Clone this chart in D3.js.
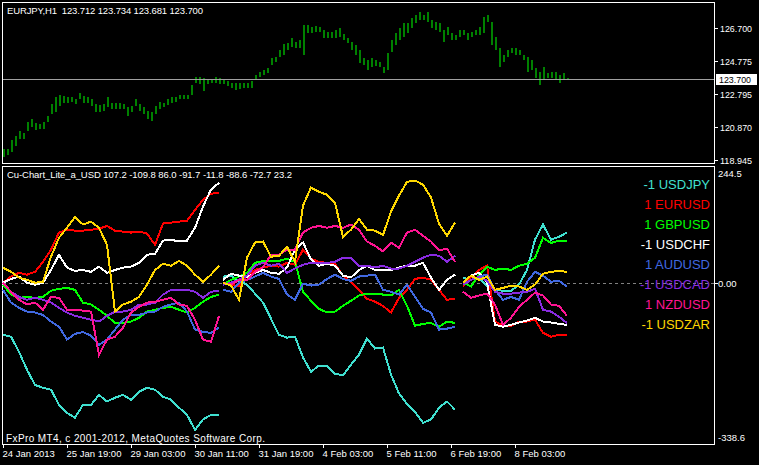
<!DOCTYPE html>
<html><head><meta charset="utf-8">
<script src="https://cdn.jsdelivr.net/npm/d3@7"></script>
<style>html,body{margin:0;padding:0;background:#000;} svg{display:block;} text{white-space:pre;}</style>
</head><body><svg id="c" width="759" height="465"></svg>
<script>
// ---------- DATA ----------
const timeLabels = ["24 Jan 2013","25 Jan 19:00","29 Jan 03:00","30 Jan 11:00","31 Jan 19:00","4 Feb 03:00","5 Feb 11:00","6 Feb 19:00","8 Feb 03:00"];
const priceTicks = [126.700,124.775,122.795,120.870,118.945];
const priceNow = 123.700;
const indTicks = [244.5,0.00,-338.6];
const seriesNames = ["-1 USDJPY","1 EURUSD","1 GBPUSD","-1 USDCHF","1 AUDUSD","-1 USDCAD","1 NZDUSD","-1 USDZAR"];
const segStarts = [0,110,230];   // bar index where each indicator segment begins (step 4 bars)

// EURJPY H1 bars, every 2nd bar (high / low)
const barHigh = [119.58,119.58,120.11,120.34,120.63,120.52,121.16,121.33,121.10,121.04,
121.16,121.51,122.21,122.62,122.79,122.73,122.67,122.67,122.50,122.91,
122.73,122.67,122.50,122.21,122.15,122.21,122.62,122.32,122.27,122.32,
122.21,122.03,122.09,122.50,122.21,122.03,121.80,121.74,122.09,122.38,
122.32,122.50,122.62,122.67,122.79,122.79,122.79,123.37,123.84,123.84,
123.78,123.72,123.72,123.84,123.78,123.72,123.61,123.49,123.49,123.49,
123.49,123.49,123.61,123.96,124.13,124.25,124.37,124.95,125.01,125.42,
125.77,125.82,126.12,125.88,126.00,126.88,126.88,126.76,126.82,126.76,
126.58,126.47,126.47,126.58,126.70,126.35,126.12,125.88,125.71,125.42,
124.95,124.83,124.95,124.83,124.72,124.42,125.24,126.00,126.41,126.70,
126.99,126.99,127.28,127.46,127.63,127.46,127.63,127.17,127.05,126.99,
126.58,126.76,126.41,126.29,126.58,126.58,126.41,126.47,126.58,126.76,
127.34,127.46,127.05,126.17,125.53,125.12,125.42,125.53,125.53,125.42,
125.12,125.01,124.83,124.37,124.13,124.42,124.07,124.13,124.13,123.96,
124.07,123.78];
const barLow = [119.12,119.23,119.41,119.76,120.17,120.17,120.63,120.87,120.69,120.75,
120.75,121.16,121.62,121.74,122.09,122.32,122.32,122.38,122.21,122.50,
122.32,122.32,122.09,121.74,121.74,121.80,122.03,121.92,121.92,121.92,
121.92,121.51,121.74,122.09,121.80,121.62,121.33,121.22,121.62,121.92,
122.03,122.15,122.32,122.38,122.50,122.50,122.50,122.79,123.49,123.43,
122.97,123.43,123.49,123.49,123.43,123.43,123.32,123.20,123.08,123.14,
123.20,123.20,123.20,123.67,123.84,123.96,124.07,124.54,124.72,125.01,
125.12,125.42,125.59,125.53,125.53,125.12,126.41,126.41,126.47,126.47,
126.12,126.12,126.12,126.12,126.17,126.00,125.82,125.42,125.12,124.66,
124.54,124.25,124.42,124.48,124.42,124.07,124.25,125.30,125.71,126.00,
126.17,126.41,126.70,126.99,127.17,127.17,127.05,126.70,126.58,126.47,
125.88,126.29,126.00,126.00,126.17,126.29,126.00,126.17,126.29,126.29,
126.41,127.05,125.71,125.42,124.42,124.72,125.01,125.24,125.12,125.12,
124.83,124.13,124.25,123.78,123.37,123.67,123.78,123.78,123.67,123.49,
123.67,123.67];

// Indicator series, three segments each (values every 4 bars)
const usdjpy = [
 [-110,-114,-146,-184,-216,-222,-226,-258,-275,-285,-258,-258,-237,-251,-243,-237,-247,-230,-222,-226,-241,-247,-264,-279,-311,-289,-279,-279],
 [13,15,4,-4,-23,-42,-76,-110,-116,-114,-158,-188,-175,-175,-192,-196,-173,-152,-118,-139,-137,-194,-234,-256,-273,-296,-289,-264,-251,-268],
 [11,6,11,-8,-15,-17,-17,-4,27,91,123,91,97,106]];
const eurusd = [
 [0,13,21,17,23,44,70,106,112,110,110,112,114,120,110,108,106,108,104,80,125,127,129,131,154,175,188,190],
 [0,-4,-8,15,27,32,36,34,42,38,70,51,44,42,40,15,2,-15,-34,-40,-49,-63,-32,-15,8,11,6,-15,-36,-34],
 [-8,11,27,36,-82,-91,-91,-82,-82,-78,-106,-114,-110,-110]];
const gbpusd = [
 [-4,-25,-32,-30,-32,-30,-17,-13,-11,-15,-42,-46,-57,-70,-85,-85,-82,-74,-61,-57,-53,-51,-57,-63,-53,-40,-30,-25],
 [-4,6,13,21,42,46,46,46,51,44,-19,-38,-55,-63,-61,-49,-38,-27,-23,-23,-25,-27,-15,-49,-91,-87,-85,-93,-82,-85],
 [0,-8,17,34,27,30,27,36,40,53,95,84,89,89]];
const usdchf = [
 [0,8,13,0,-4,0,27,59,32,25,27,23,34,21,27,32,34,42,59,61,89,91,87,89,116,161,197,211],
 [6,19,15,11,21,27,21,19,32,70,85,49,36,40,36,15,11,27,36,27,27,27,32,36,36,42,11,-15,6,17],
 [0,15,21,0,-89,-93,-89,-84,-80,-74,-82,-84,-87,-89]];
const audusd = [
 [-15,-42,-53,-61,-63,-68,-82,-93,-120,-108,-104,-112,-131,-120,-99,-78,-68,-68,-63,-61,-51,-46,-42,-61,-99,-104,-106,-95],
 [-15,-19,0,6,13,21,13,8,-25,-36,-2,-6,-4,8,17,8,4,13,15,17,-15,-19,-25,-4,-30,-55,-63,-99,-97,-93],
 [-4,6,13,17,-15,-36,-30,-36,2,23,15,2,4,-8]];
const usdcad = [
 [0,-19,-30,-36,-32,-36,-42,-53,-63,-70,-74,-78,-82,-70,-61,-61,-57,-46,-46,-42,-25,-15,-15,-15,-19,-32,-19,-17],
 [-4,0,6,15,36,42,36,40,21,30,38,42,42,42,44,53,53,36,36,32,36,30,30,36,44,53,59,57,44,57],
 [-4,6,13,4,-19,-23,-23,-21,-19,-13,-57,-61,-72,-85]];
const nzdusd = [
 [0,-19,-36,-46,-42,-57,-30,-32,-57,-57,-59,-61,-152,-120,-114,-95,-63,-51,-42,-40,-36,-32,-46,-49,-78,-120,-125,-70],
 [0,-4,6,6,23,32,59,59,70,70,106,116,120,116,120,116,123,112,87,78,66,85,74,106,112,99,87,68,72,44],
 [-19,-32,-27,-23,-46,-89,-74,-51,-36,-21,-27,-46,-49,-70]];
const usdzar = [
 [32,23,11,6,0,2,55,95,116,139,123,129,116,80,-61,-46,-40,-30,-4,27,40,36,46,36,17,2,17,36],
 [0,-6,-36,53,85,87,55,57,76,44,163,201,192,186,169,97,112,135,112,110,101,150,184,213,216,207,180,125,99,127],
 [0,15,6,13,-15,-11,-6,-8,-15,-4,19,23,25,23]];

// ---------- DRAWING ----------
const series = [usdjpy,eurusd,gbpusd,usdchf,audusd,usdcad,nzdusd,usdzar];
const colors = ["#40E0D0","#FF0000","#00FF00","#FFFFFF","#4169E1","#8A2BE2","#FF1493","#FFD700"];
const FONT = "Liberation Sans, Arial, sans-serif";

const svg = d3.select("#c");
svg.append("rect").attr("width",759).attr("height",465).attr("fill","#000");

const xs = d3.scaleLinear().domain([0,283]).range([3,569]);
const yTop = d3.scaleLinear().domain([118.945,126.7]).range([160,28]);
const yBot = d3.scaleLinear().domain([-338.6,244.5]).range([443,167]);

// top panel: price bars
const gTop = svg.append("g").attr("shape-rendering","crispEdges");
gTop.selectAll("rect.bar").data(barHigh.map((h,i)=>({i:i*2,h,l:barLow[i]})))
  .enter().append("rect")
  .attr("x",d=>Math.round(xs(d.i)))
  .attr("y",d=>Math.round(yTop(d.h)))
  .attr("width",2)
  .attr("height",d=>Math.max(2,Math.round(yTop(d.l))-Math.round(yTop(d.h))))
  .attr("fill","#008000");

// current price line
gTop.append("line").attr("x1",3).attr("x2",714).attr("y1",Math.round(yTop(priceNow))+0.5).attr("y2",Math.round(yTop(priceNow))+0.5)
  .attr("stroke","#a0a0a0").attr("stroke-width",1);

// frames
const frame = svg.append("g").attr("fill","none").attr("stroke","#fff").attr("stroke-width",1).attr("shape-rendering","crispEdges");
frame.append("rect").attr("x",2.5).attr("y",2.5).attr("width",712).attr("height",161);
frame.append("path").attr("d","M2.5,444.5V166.5H714.5V444.5H2.5");

// right axis top
const axT = svg.append("g").attr("font-family",FONT).attr("font-size",9.5).attr("fill","#fff");
priceTicks.forEach(v=>{
  const y = Math.round(yTop(v))+0.5;
  svg.append("line").attr("x1",714).attr("x2",718).attr("y1",y).attr("y2",y).attr("stroke","#fff").attr("shape-rendering","crispEdges");
  axT.append("text").attr("x",720).attr("y",y+3.5).attr("textLength",32).attr("lengthAdjust","spacingAndGlyphs").text(v.toFixed(3));
});
const py = Math.round(yTop(priceNow));
svg.append("rect").attr("x",716).attr("y",py-5).attr("width",41).attr("height",11).attr("fill","#fff");
svg.append("text").attr("x",719).attr("y",py+3.5).attr("font-family",FONT).attr("font-size",9.5).attr("fill","#000")
  .attr("textLength",32).attr("lengthAdjust","spacingAndGlyphs").text(priceNow.toFixed(3));

// titles
svg.append("text").attr("x",7).attr("y",14).attr("font-family",FONT).attr("font-size",9.5).attr("fill","#fff")
  .attr("textLength",196).attr("lengthAdjust","spacing")
  .text("EURJPY,H1  123.712 123.734 123.681 123.700");
svg.append("text").attr("x",7).attr("y",178).attr("font-family",FONT).attr("font-size",9.5).attr("fill","#fff")
  .attr("textLength",285).attr("lengthAdjust","spacing")
  .text("Cu-Chart_Lite_a_USD 107.2 -109.8 86.0 -91.7 -11.8 -88.6 -72.7 23.2");

// zero line
const zy = Math.round(yBot(0))+0.5;
svg.append("line").attr("x1",3).attr("x2",714).attr("y1",zy).attr("y2",zy)
  .attr("stroke","#808080").attr("stroke-dasharray","3,3").attr("shape-rendering","crispEdges");

// indicator lines
const line = d3.line().x(d=>xs(d.i)).y(d=>yBot(d.v));
const gLines = svg.append("g").attr("fill","none").attr("stroke-width",2).attr("stroke-linejoin","miter").attr("shape-rendering","crispEdges");
series.forEach((s,si)=>{
  s.forEach((seg,k)=>{
    const pts = seg.map((v,j)=>({i:segStarts[k]+j*4, v}));
    gLines.append("path").attr("d",line(pts)).attr("stroke",colors[si]);
  });
});

// legend
seriesNames.forEach((n,i)=>{
  svg.append("text").attr("x",710).attr("y",189+i*20).attr("text-anchor","end")
    .attr("font-family",FONT).attr("font-size",13).attr("fill",colors[i]).text(n);
});

// right axis bottom
const axB = svg.append("g").attr("font-family",FONT).attr("font-size",9.5).attr("fill","#fff");
const offs = [10,3.5,-2];
indTicks.forEach((v,i)=>{
  const y = Math.round(yBot(v));
  axB.append("text").attr("x",718).attr("y",y+offs[i]).text(i===1? v.toFixed(2) : v.toFixed(1));
});
svg.append("line").attr("x1",714).attr("x2",718).attr("y1",zy).attr("y2",zy).attr("stroke","#fff").attr("shape-rendering","crispEdges");

// bottom time axis
const gX = svg.append("g").attr("font-family",FONT).attr("font-size",9.5).attr("fill","#fff");
timeLabels.forEach((t,k)=>{
  const x = Math.round(xs(k*32))+0.5;
  svg.append("line").attr("x1",x).attr("x2",x).attr("y1",444).attr("y2",448).attr("stroke","#fff").attr("shape-rendering","crispEdges");
  gX.append("text").attr("x",x-1).attr("y",457).text(t);
});

// copyright
svg.append("text").attr("x",6).attr("y",442).attr("font-family",FONT).attr("font-size",10).attr("fill","#fff")
  .attr("textLength",259).attr("lengthAdjust","spacing")
  .text("FxPro MT4, c 2001-2012, MetaQuotes Software Corp.");
</script></body></html>
